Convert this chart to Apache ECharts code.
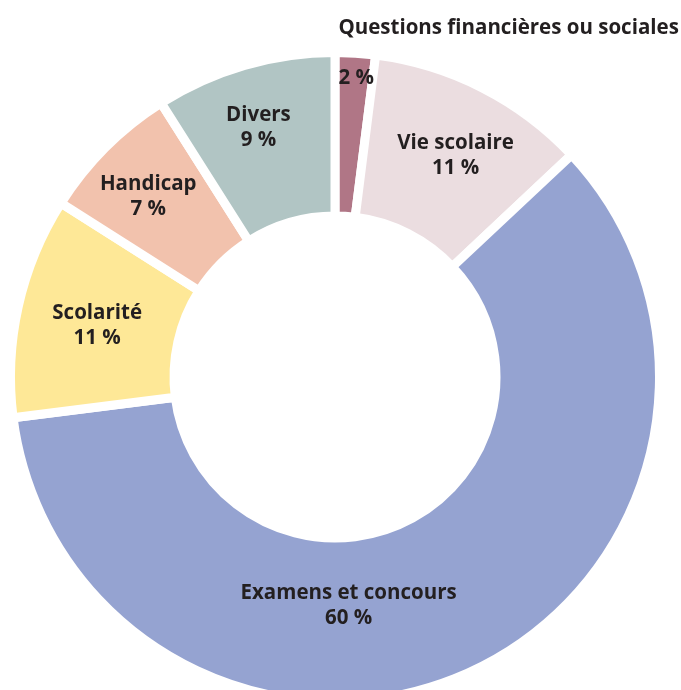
<!DOCTYPE html>
<html>
<head>
<meta charset="utf-8">
<script src="https://cdn.jsdelivr.net/npm/echarts@6/dist/echarts.min.js"></script>
<style>
  html, body { margin: 0; padding: 0; background: #ffffff; }
  #chart { width: 681px; height: 690px; }
</style>
</head>
<body>
<div id="chart"></div>
<script>
// Répartition des saisines par thème (en %)
const categories = [
  'Questions financières ou sociales',
  'Vie scolaire',
  'Examens et concours',
  'Scolarité',
  'Handicap',
  'Divers'
];
const shares = [2, 11, 60, 11, 7, 9];
const sliceColors = ['#b07686', '#ebdde0', '#95a3d1', '#fee897', '#f2c2ad', '#b1c5c4'];

// Nudges applied to the inside labels (px), by slice index
const labelNudge = [
  { dx: -12, dy: -66, align: 'left' },
  { dx: 9, dy: -2 },
  { dx: -91, dy: 6 },
  { dx: 2, dy: 2 },
  { dx: -13, dy: -7 },
  { dx: -8, dy: -13 }
];

const font = '"Open Sans", "DejaVu Sans", sans-serif';
const textColor = '#231f20';
const labelSize = 20.5;

const data = categories.map((name, i) => {
  const item = { name: name, value: shares[i], itemStyle: { color: sliceColors[i] } };
  if (i === 0) {
    // small slice: name set above the ring, value inside the slice
    item.label = {
      formatter: '{n|{b}}\n{p|{c} %}',
      align: 'left',
      rich: {
        n: { fontSize: labelSize, fontWeight: 'bold', fontFamily: font, color: textColor, lineHeight: 25, align: 'left' },
        p: { fontSize: labelSize, fontWeight: 'bold', fontFamily: font, color: textColor, lineHeight: 75, align: 'left' }
      }
    };
  }
  return item;
});

const chart = echarts.init(document.getElementById('chart'), null, { renderer: 'canvas' });
chart.setOption({
  backgroundColor: '#ffffff',
  animation: false,
  series: [{
    type: 'pie',
    center: [335, 377],
    radius: [161, 324.5],
    startAngle: 90,
    clockwise: true,
    avoidLabelOverlap: false,
    itemStyle: { borderColor: '#ffffff', borderWidth: 9 },
    label: {
      show: true,
      position: 'inside',
      formatter: '{b}\n{c} %',
      fontSize: labelSize,
      lineHeight: 25,
      fontWeight: 'bold',
      fontFamily: font,
      color: textColor
    },
    labelLine: { show: false },
    labelLayout: function (params) {
      return labelNudge[params.dataIndex];
    },
    emphasis: { disabled: true },
    data: data
  }]
});
</script>
</body>
</html>
